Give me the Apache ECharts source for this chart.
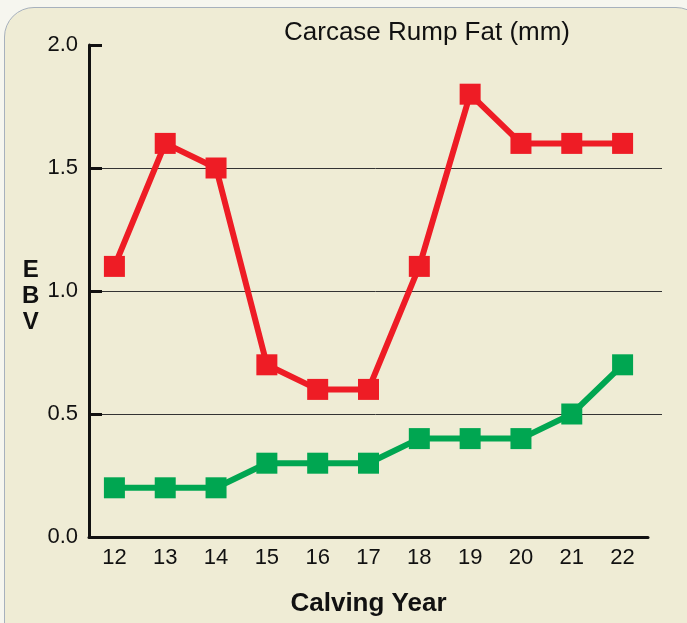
<!DOCTYPE html>
<html>
<head>
<meta charset="utf-8">
<script src="https://cdn.jsdelivr.net/npm/echarts@6/dist/echarts.min.js"></script>
<style>
  html, body { margin: 0; padding: 0; background: #f6f6ef; }
  #wrap { position: relative; width: 687px; height: 623px; overflow: hidden; }
  #panel { position: absolute; left: 4px; top: 7px; width: 700px; height: 660px;
           background: #efecd5; border: 1.5px solid #a7b1bd; border-radius: 30px; }
  #chart { position: absolute; left: 0; top: 0; width: 687px; height: 623px; }
</style>
</head>
<body>
<div id="wrap">
  <div id="panel"></div>
  <div id="chart"></div>
</div>
<script>
const categories = ['12', '13', '14', '15', '16', '17', '18', '19', '20', '21', '22'];
const redValues = [1.1, 1.6, 1.5, 0.7, 0.6, 0.6, 1.1, 1.8, 1.6, 1.6, 1.6];
const greenValues = [0.2, 0.2, 0.2, 0.3, 0.3, 0.3, 0.4, 0.4, 0.4, 0.5, 0.7];
const titleText = 'Carcase Rump Fat (mm)';
const xName = 'Calving Year';
const yName = 'E\nB\nV';

const chart = echarts.init(document.getElementById('chart'), null, { renderer: 'canvas' });
const font = '"Liberation Sans", Arial, sans-serif';
const option = {
  backgroundColor: 'transparent',
  animation: false,
  title: {
    text: titleText, left: 422, top: 15, textAlign: 'center',
    textStyle: { fontFamily: font, fontSize: 26, fontWeight: 'normal', color: '#111' }
  },
  graphic: [{
    type: 'text', left: 22, top: 257,
    style: { text: yName, font: 'bold 24px ' + font, fill: '#111', lineHeight: 26, textAlign: 'center' }
  }],
  grid: [
    { left: 89, right: 39, top: 45, bottom: 86 },
    { left: 89, right: 25, top: 45, bottom: 86 }
  ],
  xAxis: [{
    type: 'category', data: categories, gridIndex: 0, boundaryGap: true,
    name: xName, nameLocation: 'middle', nameGap: 54,
    nameTextStyle: { fontFamily: font, fontSize: 26, fontWeight: 'bold', color: '#111' },
    axisLine: { lineStyle: { color: '#111', width: 3 } },
    axisTick: { inside: true, length: 10, lineStyle: { color: '#111', width: 2.5 } },
    axisLabel: { margin: 10, fontFamily: font, fontSize: 22, color: '#111' },
    splitLine: { show: false }
  }, {
    type: 'value', gridIndex: 1, min: 0, max: 1, show: false
  }],
  yAxis: [{
    type: 'value', gridIndex: 0, min: 0, max: 2, interval: 0.5,
    axisLine: { show: true, lineStyle: { color: '#111', width: 3 } },
    axisTick: { show: true, inside: true, length: 13, lineStyle: { color: '#111', width: 3 } },
    axisLabel: { margin: 11, fontFamily: font, fontSize: 22, color: '#111',
                 formatter: v => v.toFixed(1) },
    splitLine: { show: false }
  }, {
    type: 'value', gridIndex: 1, min: 0, max: 2, interval: 0.5,
    axisLine: { show: false }, axisTick: { show: false }, axisLabel: { show: false },
    splitLine: { show: true, lineStyle: { color: ['transparent', '#333', '#333', '#333', 'transparent'], width: 1 } }
  }],
  series: [{
    type: 'line', data: redValues, xAxisIndex: 0, yAxisIndex: 0,
    symbol: 'rect', symbolSize: 21,
    lineStyle: { color: '#ee1c25', width: 6 },
    itemStyle: { color: '#ee1c25' }, z: 3
  }, {
    type: 'line', data: greenValues, xAxisIndex: 0, yAxisIndex: 0,
    symbol: 'rect', symbolSize: 21,
    lineStyle: { color: '#00a651', width: 6 },
    itemStyle: { color: '#00a651' }, z: 3
  }]
};
chart.setOption(option);
</script>
</body>
</html>
